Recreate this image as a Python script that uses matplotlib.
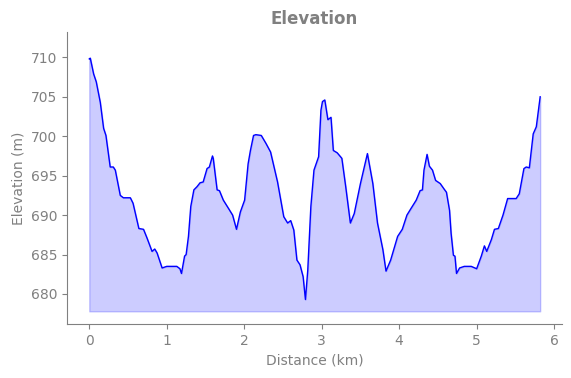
import matplotlib
matplotlib.use("Agg")
import matplotlib.pyplot as plt
import numpy as np

# distance (km) and elevation (m)
distance_km = [
    0.0, 0.013, 0.056, 0.09, 0.142, 0.185, 0.215, 0.27, 0.31, 0.336, 0.40, 0.44,
    0.53, 0.565, 0.64, 0.70, 0.745, 0.81, 0.845, 0.875, 0.94, 1.0, 1.13, 1.17,
    1.19, 1.23, 1.25, 1.28, 1.31, 1.35, 1.39, 1.43, 1.47, 1.52, 1.55, 1.59,
    1.60, 1.65, 1.68, 1.73, 1.80, 1.85, 1.90, 1.95, 2.005, 2.05, 2.08, 2.12,
    2.15, 2.22, 2.28, 2.34, 2.43, 2.51, 2.56, 2.60, 2.64, 2.68, 2.72, 2.76,
    2.79, 2.82, 2.86, 2.90, 2.96, 2.99, 3.01, 3.04, 3.08, 3.12, 3.15, 3.20,
    3.26, 3.31, 3.37, 3.42, 3.50, 3.59, 3.66, 3.72, 3.79, 3.83, 3.89, 3.98,
    4.04, 4.10, 4.15, 4.22, 4.27, 4.30, 4.32, 4.36, 4.39, 4.43, 4.47, 4.53,
    4.58, 4.61, 4.65, 4.67, 4.70, 4.72, 4.74, 4.78, 4.84, 4.93, 5.00, 5.06,
    5.10, 5.13, 5.19, 5.23, 5.28, 5.34, 5.40, 5.51, 5.55, 5.61, 5.64, 5.68,
    5.73, 5.77, 5.82,
]
elevation_m = [
    709.8, 709.9, 707.9, 706.9, 704.3, 701.0, 700.1, 696.1, 696.1, 695.7, 692.5, 692.2,
    692.2, 691.5, 688.3, 688.2, 687.1, 685.4, 685.7, 685.2, 683.3, 683.5, 683.5, 683.2,
    682.6, 684.8, 685.0, 687.3, 691.1, 693.2, 693.6, 694.1, 694.2, 695.9, 696.1, 697.5,
    697.2, 693.2, 693.1, 691.9, 690.8, 690.0, 688.2, 690.4, 691.9, 696.5, 698.2, 700.1,
    700.2, 700.1, 699.1, 698.0, 694.2, 689.8, 689.0, 689.3, 688.1, 684.3, 683.7, 682.2,
    679.3, 683.0, 691.1, 695.7, 697.4, 703.3, 704.4, 704.6, 702.1, 702.4, 698.2, 697.9,
    697.2, 693.6, 689.0, 690.2, 694.0, 697.8, 694.0, 689.0, 685.6, 682.9, 684.3, 687.3,
    688.2, 690.0, 690.8, 691.9, 693.1, 693.2, 695.7, 697.7, 696.2, 695.7, 694.4, 694.0,
    693.3, 692.9, 690.6, 687.7, 684.9, 684.8, 682.6, 683.3, 683.5, 683.5, 683.2, 684.8,
    686.1, 685.4, 686.9, 688.2, 688.3, 690.0, 692.1, 692.1, 692.7, 695.9, 696.1, 696.0,
    700.3, 701.2, 705.0,
]

x = np.array(distance_km)
y = np.array(elevation_m)
base = y.min() - 1.5

fig = plt.figure(figsize=(5.71, 3.78), dpi=100)
ax = fig.add_axes([0.117, 0.143, 0.867, 0.772])

ax.plot(x, y, color="blue", linewidth=1.0)
ax.fill_between(x, y, base, color="blue", alpha=0.2)

ax.set_xlim(-0.29, 6.1)
ax.set_ylim(676.2, 713.2)

grey = "#808080"
ax.set_title("Elevation", fontsize=12, fontweight="bold", color=grey)
ax.set_xlabel("Distance (km)", fontsize=10, color=grey)
ax.set_ylabel("Elevation (m)", fontsize=10, color=grey)
ax.tick_params(colors=grey, labelsize=10)
ax.spines["top"].set_visible(False)
ax.spines["right"].set_visible(False)
for s in ("left", "bottom"):
    ax.spines[s].set_color(grey)

fig.savefig("out.png", dpi=100)
